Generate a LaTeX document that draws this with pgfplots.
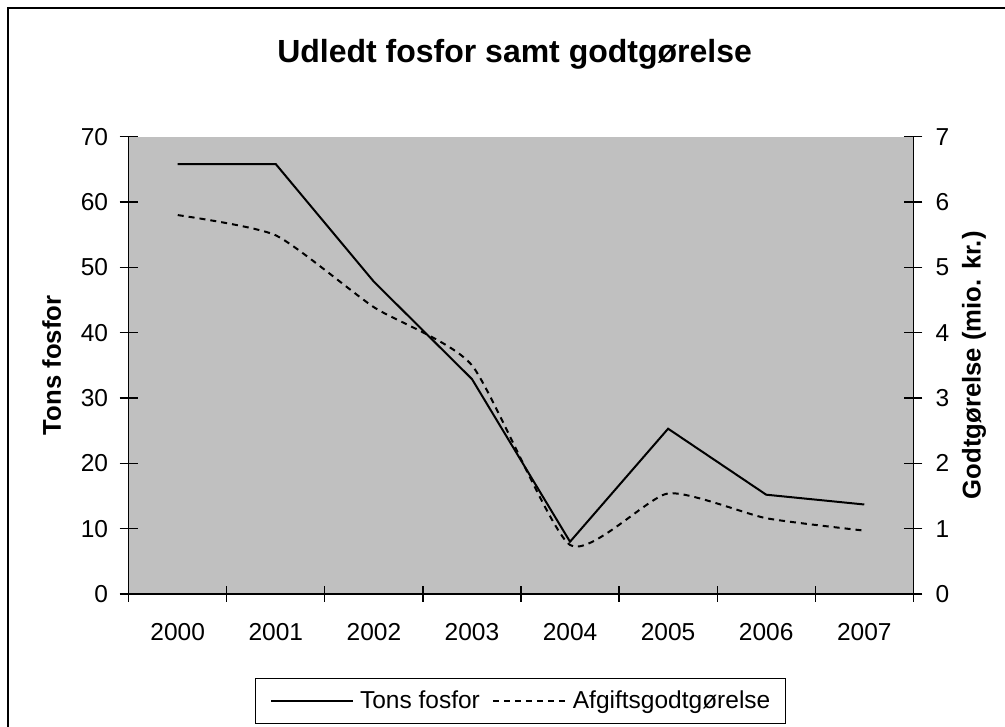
\documentclass[border=0pt]{standalone}
\usepackage{pgfplots}
\pgfplotsset{compat=1.18}
\usepackage{fontspec}
\setmainfont{Liberation Sans}
\definecolor{bgc}{HTML}{C0C0C0}
\pgfplotsset{
  legA/.style={legend image code/.code={\draw[##1] (0pt,0pt) -- (82pt,0pt);}},
  legB/.style={legend image code/.code={\draw[##1] (0pt,0pt) -- (73pt,0pt);}},
}
\pgfplotstableread{
x tons
0 65.8
1 65.8
2 47.8
3 32.9
4 8.0
5 25.3
6 15.2
7 13.7
}\tonsdata
\pgfplotstableread{
x godt
0 5.80
1 5.49
2 4.39
3 3.50
4 0.75
5 1.54
6 1.16
7 0.97
}\godtdata
\begin{document}
\begin{tikzpicture}[x=1pt,y=1pt]
\useasboundingbox (0,0) rectangle (1005,727);
\draw[line width=1.8pt] (8,0) -- (8,718.7) -- (1005,718.7);
\node[anchor=base, font=\fontsize{32}{38}\selectfont\bfseries] at (514.6,664.3) {Udledt fosfor samt godtgørelse};
\pgfplotsset{
  myaxis/.style={
    at={(128.7pt,133pt)}, anchor=south west, scale only axis,
    width=784.6pt, height=457.3pt,
    xmin=-0.5, xmax=7.5,
    /pgf/number format/assume math mode=true,
    tick label style={font=\fontsize{24.5}{29}\selectfont, inner sep=0pt},
    label style={font=\fontsize{25.7}{30}\selectfont\bfseries},
    tick align=center,
    major tick length=18pt, minor tick length=16pt,
    every tick/.style={black, line width=1.2pt},
    axis line style={black, line width=1.5pt, -},
  }
}
\begin{axis}[myaxis,
  ymin=0, ymax=70,
  axis x line*=bottom, axis y line*=left,
  axis background/.style={fill=bgc},
  xtick={0,...,7}, xticklabels={2000,2001,2002,2003,2004,2005,2006,2007},
  major x tick style={draw=none},
  minor xtick={-0.5,0.5,...,7.5},
  ytick={0,10,...,70},
  xticklabel style={yshift=-20pt},
  yticklabel style={xshift=-11.4pt},
  ylabel={Tons fosfor},
  ylabel style={at={(axis description cs:-0.098,0.5)}, anchor=center},
]
\addplot[black, line width=2pt] table[x=x, y=tons] {\tonsdata};
\end{axis}
\begin{axis}[myaxis,
  ymin=0, ymax=7,
  axis x line=none, axis y line*=right,
  ytick={0,1,...,7},
  yticklabel style={xshift=13pt},
  ylabel={Godtgørelse (mio. kr.)},
  ylabel style={at={(axis description cs:1.0774,0.5)}, anchor=center},
  legend columns=2,
  legend style={at={(0.499,-0.2335)}, anchor=center, draw=black, line width=1pt,
    fill=white, font=\fontsize{24.5}{29}\selectfont,
    nodes={inner sep=0pt}, inner xsep=15pt, inner ysep=13pt,
    /tikz/every odd column/.append style={column sep=6pt},
    /tikz/every even column/.append style={column sep=12pt}},
  legend cell align=left,
]
\addlegendimage{black, line width=2pt, legA}
\addlegendentry{Tons fosfor}
\addplot[black, line width=2pt, dash pattern=on 6pt off 5pt, smooth, tension=0.35, legB] table[x=x, y=godt] {\godtdata};
\addlegendentry{Afgiftsgodtgørelse}
\end{axis}
\end{tikzpicture}
\end{document}
